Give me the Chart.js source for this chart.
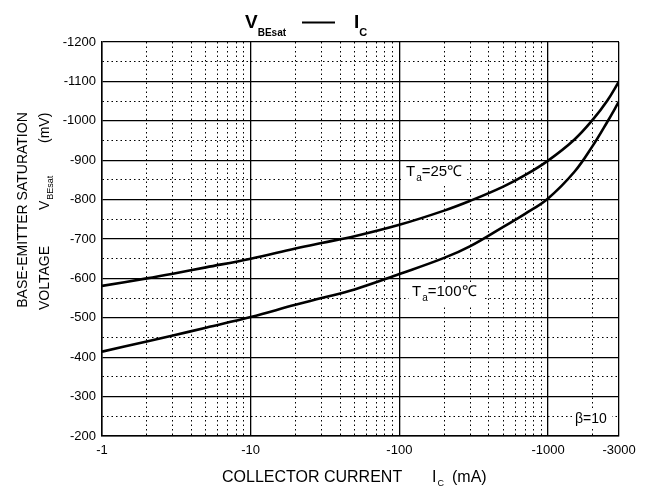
<!DOCTYPE html>
<html>
<head>
<meta charset="utf-8">
<script src="https://cdn.jsdelivr.net/npm/chart.js@4.4.1/dist/chart.umd.min.js"></script>
<style>
  html, body { margin: 0; padding: 0; background: #fff; }
  #chart { display: block; }
</style>
</head>
<body>
<canvas id="chart" width="646" height="487"></canvas>
<script>
// collector current, mA (magnitude, axis shows negative)
const currentMA = [1, 2, 3, 5, 10, 20, 30, 50, 100, 200, 300, 500, 700, 1000, 1500, 2000, 2500, 3000];
// VBEsat magnitude, mV
const vbe25 = [581, 600, 612, 628, 650, 676, 690, 707, 736, 772, 797, 833, 862, 899, 952, 1003, 1051, 1100];
const vbe100 = [414, 440, 455, 475, 502, 533, 550, 572, 611, 652, 682, 731, 764, 803, 870, 937, 997, 1049];

// grid positions on the x axis, labelled ones below
const xGridValues = [1, 2, 3, 4, 5, 6, 7, 8, 9, 10, 20, 30, 40, 50, 60, 70, 80, 90,
  100, 200, 300, 400, 500, 600, 700, 800, 900, 1000, 2000, 3000];
const xTickValues = [1, 10, 100, 1000, 3000];
const xTickLabels = ['-1', '-10', '-100', '-1000', '-3000'];

const FONT = "'Liberation Sans', Arial, sans-serif";

const toPoints = (ys) => currentMA.map((x, i) => ({ x: x, y: ys[i] }));

const isMajorX = (v) => xTickValues.includes(v);
const isMajorY = (v) => v % 100 === 0;

// text with subscripts, white box behind when asked
const textPlugin = {
  id: 'texts',
  afterDraw(chart) {
    const ctx = chart.ctx;
    ctx.save();
    ctx.fillStyle = '#000';
    ctx.textBaseline = 'alphabetic';
    ctx.textAlign = 'left';

    const run = (parts, x, y) => {
      let cx = x;
      parts.forEach(p => {
        ctx.font = p.font;
        ctx.fillText(p.t, cx, y + (p.dy || 0));
        cx += ctx.measureText(p.t).width + (p.gap || 0);
      });
    };

    // title
    run([{ t: 'V', font: 'bold 19px ' + FONT, gap: 0 }, { t: 'BEsat', font: 'bold 10px ' + FONT, dy: 8 }], 245, 28);
    ctx.fillRect(302, 21.5, 33, 2);
    run([{ t: 'I', font: 'bold 19px ' + FONT, gap: 0 }, { t: 'C', font: 'bold 11px ' + FONT, dy: 8 }], 354, 28);

    // annotations
    const box = (x, y, w, h) => { ctx.fillStyle = '#fff'; ctx.fillRect(x, y, w, h); ctx.fillStyle = '#000'; };
    box(403, 162, 64, 23);
    run([{ t: 'T', font: '15px ' + FONT, gap: 1 }, { t: 'a', font: '10px ' + FONT, dy: 5 }, { t: '=25℃', font: '15px ' + FONT }], 406, 176);
    box(409, 282, 73, 23);
    run([{ t: 'T', font: '15px ' + FONT, gap: 1 }, { t: 'a', font: '10px ' + FONT, dy: 5 }, { t: '=100℃', font: '15px ' + FONT }], 412, 296);
    box(572, 409, 40, 18);
    run([{ t: 'β=10', font: '14px ' + FONT }], 575, 423);

    // x axis title
    run([{ t: 'COLLECTOR CURRENT', font: '16px ' + FONT }], 222, 482);
    run([{ t: 'I', font: '16px ' + FONT, gap: 1 }, { t: 'C', font: '9px ' + FONT, dy: 4 }], 432, 482);
    run([{ t: '(mA)', font: '16px ' + FONT }], 452, 482);

    // y axis title, rotated
    ctx.rotate(-Math.PI / 2);
    ctx.font = '14px ' + FONT;
    ctx.textAlign = 'center';
    ctx.fillText('BASE-EMITTER SATURATION', -210, 27);
    ctx.textAlign = 'left';
    run([{ t: 'VOLTAGE', font: '14px ' + FONT }], -310, 49);
    run([{ t: 'V', font: '14px ' + FONT, gap: 1 }, { t: 'BEsat', font: '9px ' + FONT, dy: 4 }], -210, 49);
    run([{ t: '(mV)', font: '14px ' + FONT }], -143, 49);

    ctx.restore();
  }
};

new Chart(document.getElementById('chart').getContext('2d'), {
  type: 'line',
  data: {
    datasets: [
      {
        label: 'Ta=25',
        data: toPoints(vbe25),
        borderColor: '#000',
        borderWidth: 2.6,
        pointRadius: 0,
        tension: 0.4,
        fill: false
      },
      {
        label: 'Ta=100',
        data: toPoints(vbe100),
        borderColor: '#000',
        borderWidth: 2.6,
        pointRadius: 0,
        tension: 0.4,
        fill: false
      }
    ]
  },
  options: {
    responsive: false,
    animation: false,
    layout: { padding: { left: 0, right: 27, top: 42, bottom: 0 } },
    plugins: {
      legend: { display: false },
      tooltip: { enabled: false },
      title: { display: false }
    },
    scales: {
      x: {
        type: 'logarithmic',
        min: 1,
        max: 3000,
        afterBuildTicks: (scale) => {
          scale.ticks = xGridValues.map(v => ({ value: v }));
        },
        afterFit: (scale) => { scale.height = 51; },
        ticks: {
          autoSkip: false,
          maxRotation: 0,
          padding: 7,
          color: '#000',
          font: { family: FONT, size: 13 },
          callback: function(value) {
            const i = xTickValues.indexOf(value);
            return i >= 0 ? xTickLabels[i] : '';
          }
        },
        grid: {
          drawTicks: false,
          color: '#000',
          lineWidth: (ctx) => ctx.tick && isMajorX(ctx.tick.value) ? 1.3 : 1
        },
        border: {
          color: '#000',
          width: 1.5,
          dash: (ctx) => ctx.tick && !isMajorX(ctx.tick.value) ? [1.5, 3] : []
        }
      },
      y: {
        type: 'linear',
        min: 200,
        max: 1200,
        afterFit: (scale) => { scale.width = 102; },
        ticks: {
          stepSize: 50,
          autoSkip: false,
          padding: 6,
          color: '#000',
          font: { family: FONT, size: 13 },
          callback: (value) => isMajorY(value) ? '-' + value : ''
        },
        grid: {
          drawTicks: false,
          color: '#000',
          lineWidth: (ctx) => ctx.tick && isMajorY(ctx.tick.value) ? 1.3 : 1
        },
        border: {
          color: '#000',
          width: 1.5,
          dash: (ctx) => ctx.tick && !isMajorY(ctx.tick.value) ? [1.5, 3] : []
        }
      }
    }
  },
  plugins: [textPlugin]
});
</script>
</body>
</html>
